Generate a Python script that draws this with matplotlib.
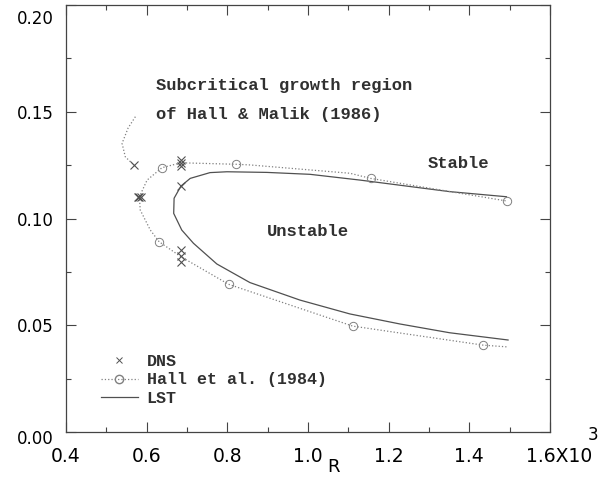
import numpy as np
import matplotlib
matplotlib.use('Agg')
import matplotlib.pyplot as plt
import matplotlib.transforms as mtransforms
from matplotlib.lines import Line2D

# R is in units of 10^3
# LST neutral curve (upper right -> nose -> lower right)
lst_R = [1.492, 1.351, 1.129, 1.005, 0.898, 0.799, 0.757, 0.708, 0.685, 0.668,
         0.667, 0.687, 0.716, 0.774, 0.856, 0.980, 1.104, 1.228, 1.351, 1.496]
lst_y = [0.1102, 0.1126, 0.1180, 0.1207, 0.1216, 0.1219, 0.1215, 0.1188, 0.1152, 0.1095,
         0.1024, 0.0946, 0.0884, 0.0787, 0.0700, 0.0618, 0.0553, 0.0506, 0.0465, 0.0431]

# Hall et al. (1984) curve (lower right -> nose -> upper right)
hall_R = [1.492, 1.434, 1.111, 0.803, 0.685, 0.631, 0.609, 0.584, 0.582, 0.601,
          0.638, 0.685, 0.822, 0.856, 1.104, 1.155, 1.493]
hall_y = [0.0399, 0.0407, 0.0496, 0.0692, 0.0821, 0.0891, 0.0946, 0.1040, 0.1102, 0.1180,
          0.1238, 0.1261, 0.1254, 0.1251, 0.1212, 0.1188, 0.1082]

# points marked with circles on the Hall et al. curve
hall_pt_R = [1.434, 1.111, 0.803, 0.631, 0.638, 0.822, 1.155, 1.493]
hall_pt_y = [0.0407, 0.0496, 0.0692, 0.0891, 0.1238, 0.1254, 0.1188, 0.1082]

# subcritical branch of Hall & Malik (1986)
sub_R = [0.572, 0.554, 0.539, 0.547, 0.568]
sub_y = [0.1477, 0.1424, 0.1352, 0.1289, 0.1251]

# DNS runs
dns_R = [0.568, 0.578, 0.582, 0.587, 0.685, 0.685, 0.685, 0.685, 0.685, 0.685, 0.685]
dns_y = [0.1251, 0.1102, 0.1102, 0.1102, 0.1274, 0.1260, 0.1246, 0.1152, 0.0852, 0.0824, 0.0796]

x_ticks = [0.4, 0.6, 0.8, 1.0, 1.2, 1.4, 1.6]
x_labels = ['0.4', '0.6', '0.8', '1.0', '1.2', '1.4', '1.6X10']
y_ticks = [0.00, 0.05, 0.10, 0.15, 0.20]
y_labels = ['0.00', '0.05', '0.10', '0.15', '0.20']

mono = 'Liberation Mono'
dark = '#505050'
light = '#808080'
ink = '#303030'

fig = plt.figure(figsize=(6, 4.78), dpi=100)
ax = fig.add_axes([0.11, 0.0962, 0.8067, 0.8933])

ax.plot(lst_R, lst_y, '-', color=dark, lw=0.9)
ax.plot(hall_R, hall_y, ':', color=light, lw=0.9)
ax.plot(hall_pt_R, hall_pt_y, 'o', mfc='none', mec=light, ms=6, mew=0.7)
ax.plot(sub_R, sub_y, ':', color=light, lw=0.9)
ax.plot(dns_R, dns_y, 'x', color=dark, ms=6, mew=0.8, ls='none')

ax.set_xlim(0.4, 1.6)
ax.set_ylim(0, 0.2)
ax.set_xticks(x_ticks)
ax.set_xticklabels(x_labels)
ax.set_xticks(np.arange(0.5, 1.6, 0.2), minor=True)
ax.set_yticks(y_ticks)
ax.set_yticklabels(y_labels)
ax.set_yticks([0.025, 0.075, 0.125, 0.175], minor=True)

ax.tick_params(which='both', direction='in', top=True, right=True, color='#444444')
ax.tick_params(which='major', length=7, width=0.8)
ax.tick_params(which='minor', length=3.6, width=0.8)
ax.tick_params(axis='x', which='major', labelsize=13.5, pad=10.5)
ax.tick_params(axis='y', which='major', labelsize=12, pad=9)
for s in ax.spines.values():
    s.set_color('#444444')
    s.set_linewidth(0.9)

# nudge a few tick labels like in the original
def nudge(lbl, dx, dy):
    lbl.set_transform(lbl.get_transform() +
                      mtransforms.ScaledTranslation(dx / 100, dy / 100, fig.dpi_scale_trans))

nudge(ax.xaxis.get_major_ticks()[-1].label1, 9, 0)
nudge(ax.yaxis.get_major_ticks()[-1].label1, 0, -12)
nudge(ax.yaxis.get_major_ticks()[0].label1, 0, -5)

ax.text(1.089, -0.007, '3', transform=ax.transAxes, fontsize=12, ha='center', va='center')
ax.text(0.552, -0.082, 'R', transform=ax.transAxes, fontsize=13, ha='center', va='center')

ax.text(0.624, 0.1621, 'Subcritical growth region', family=mono, fontsize=12.3,
        fontweight='bold', va='center', color=ink)
ax.text(0.624, 0.1485, 'of Hall & Malik (1986)', family=mono, fontsize=12.3,
        fontweight='bold', va='center', color=ink)
ax.text(1.297, 0.1260, 'Stable', family=mono, fontsize=12.3, fontweight='bold',
        va='center', color=ink)
ax.text(0.899, 0.0938, 'Unstable', family=mono, fontsize=12.3, fontweight='bold',
        va='center', color=ink)

h_dns = Line2D([], [], ls='none', marker='x', color=dark, ms=4, mew=0.7)
h_hall = Line2D([], [], ls=':', color=light, lw=0.9, marker='o', mfc='none', mec=light, ms=6)
h_lst = Line2D([], [], ls='-', color=dark, lw=0.9)
ax.legend([h_dns, h_hall, h_lst], ['DNS', 'Hall et al. (1984)', 'LST'],
          loc='center left', bbox_to_anchor=(0.072, 0.122), frameon=False,
          prop={'family': mono, 'size': 12, 'weight': 'bold'}, handlelength=2.2,
          handletextpad=0.55, labelspacing=0.2, borderpad=0, borderaxespad=0,
          numpoints=1, labelcolor=ink)

fig.savefig('out.png', dpi=100)
